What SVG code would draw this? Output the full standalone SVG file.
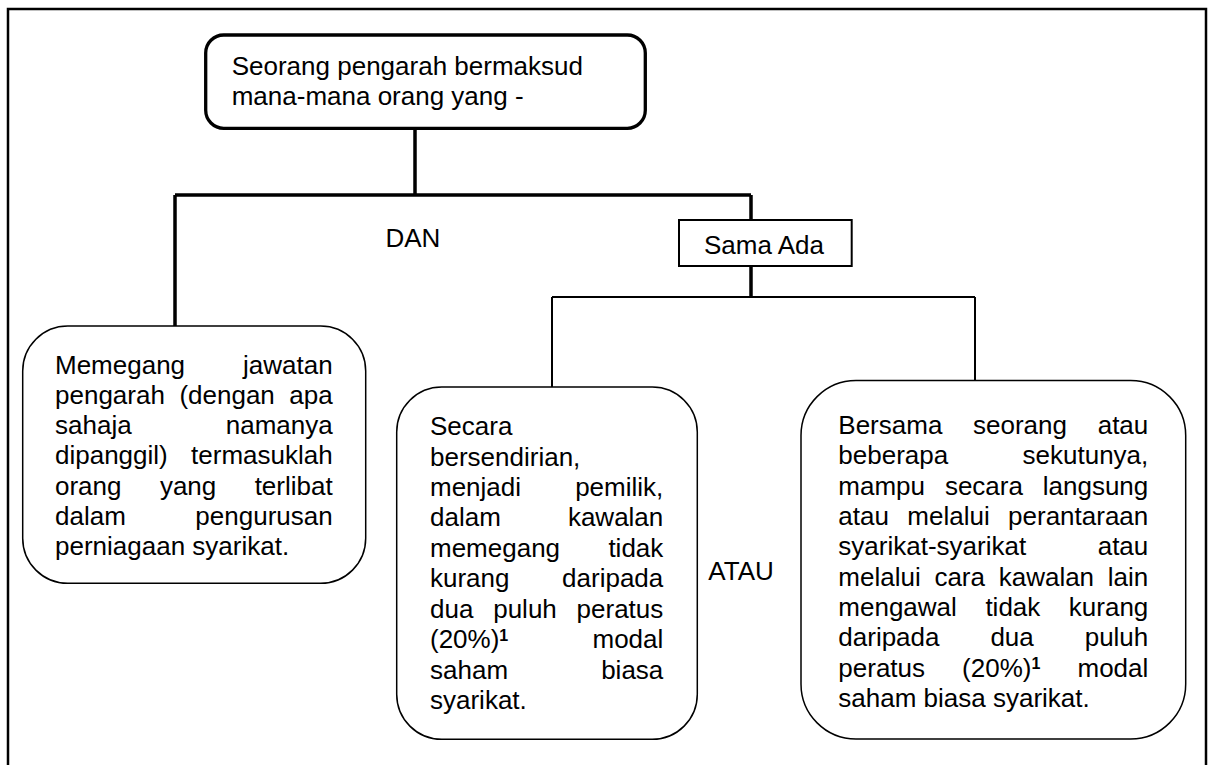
<svg xmlns="http://www.w3.org/2000/svg" width="1209" height="765" viewBox="0 0 1209 765">
<style>
text{font-family:"Liberation Sans",Arial,sans-serif;font-size:26px;fill:#000}
.sup{font-size:16px;font-weight:bold}
.thick{stroke:#000;stroke-width:3.5;fill:none}
.thin{stroke:#000;stroke-width:2;fill:none}
.box{fill:#fff;stroke:#000;stroke-width:1.5}
.e{text-anchor:end}
</style>
<rect x="0" y="0" width="1209" height="765" fill="#fff"/>
<rect id="frame" x="8" y="9" width="1198" height="770" fill="none" stroke="#000" stroke-width="2.5"/>
<g id="connectors">
<path class="thick" d="M415 128 V195 M175 195 H751 M175 195 V326 M751 195 V220 M751 266 V297"/>
<path class="thin" d="M552 297 H975 M552 297 V387 M975 297 V380"/>
</g>
<g id="top">
<rect x="205.7" y="35" width="439.6" height="93.3" rx="18" fill="#fff" stroke="#000" stroke-width="3.3"/>
<text x="231.7" y="75">Seorang pengarah bermaksud</text>
<text x="231.7" y="105">mana-mana orang yang -</text>
</g>
<g id="dan"><text x="385.5" y="247">DAN</text></g>
<g id="samaada">
<rect x="679" y="220" width="172.7" height="46" fill="#fff" stroke="#000" stroke-width="2"/>
<text x="704" y="254">Sama Ada</text>
</g>
<g id="atau"><text x="708.3" y="580">ATAU</text></g>
<g id="left">
<rect class="box" x="22.7" y="326" width="343" height="257.3" rx="45"/>
<text x="55" y="373.5">Memegang</text><text class="e" x="332.7" y="373.5">jawatan</text>
<text x="55" y="403.8">pengarah</text><text x="179.4" y="403.8">(dengan</text><text class="e" x="332.7" y="403.8">apa</text>
<text x="55" y="434.1">sahaja</text><text class="e" x="332.7" y="434.1">namanya</text>
<text x="55" y="464.4">dipanggil)</text><text class="e" x="332.7" y="464.4">termasuklah</text>
<text x="55" y="494.7">orang</text><text x="159.9" y="494.7">yang</text><text class="e" x="332.7" y="494.7">terlibat</text>
<text x="55" y="525">dalam</text><text class="e" x="332.7" y="525">pengurusan</text>
<text x="55" y="555.3">perniagaan syarikat.</text>
</g>
<g id="middle">
<rect class="box" x="396.7" y="387" width="300.6" height="352.3" rx="45"/>
<text x="430" y="435">Secara</text>
<text x="430" y="465.5">bersendirian,</text>
<text x="430" y="496">menjadi</text><text class="e" x="663.3" y="496">pemilik,</text>
<text x="430" y="526.4">dalam</text><text class="e" x="663.3" y="526.4">kawalan</text>
<text x="430" y="556.9">memegang</text><text class="e" x="663.3" y="556.9">tidak</text>
<text x="430" y="587.4">kurang</text><text class="e" x="663.3" y="587.4">daripada</text>
<text x="430" y="617.9">dua</text><text x="493.2" y="617.9">puluh</text><text class="e" x="663.3" y="617.9">peratus</text>
<text x="430" y="648.4">(20%)</text><text class="sup" x="499.3" y="641">1</text><text class="e" x="663.3" y="648.4">modal</text>
<text x="430" y="678.8">saham</text><text class="e" x="663.3" y="678.8">biasa</text>
<text x="430" y="709.3">syarikat.</text>
</g>
<g id="right">
<rect class="box" x="801" y="380.5" width="384.7" height="358.5" rx="55"/>
<text x="838.3" y="434">Bersama</text><text x="973" y="434">seorang</text><text class="e" x="1148.3" y="434">atau</text>
<text x="838.3" y="464.3">beberapa</text><text class="e" x="1148.3" y="464.3">sekutunya,</text>
<text x="838.3" y="494.7">mampu</text><text x="944.9" y="494.7">secara</text><text class="e" x="1148.3" y="494.7">langsung</text>
<text x="838.3" y="525">atau</text><text x="907.3" y="525">melalui</text><text class="e" x="1148.3" y="525">perantaraan</text>
<text x="838.3" y="555.4">syarikat-syarikat</text><text class="e" x="1148.3" y="555.4">atau</text>
<text x="838.3" y="585.7">melalui</text><text x="934.4" y="585.7">cara</text><text x="998.7" y="585.7">kawalan</text><text class="e" x="1148.3" y="585.7">lain</text>
<text x="838.3" y="616.1">mengawal</text><text x="985.4" y="616.1">tidak</text><text class="e" x="1148.3" y="616.1">kurang</text>
<text x="838.3" y="646.4">daripada</text><text x="990.4" y="646.4">dua</text><text class="e" x="1148.3" y="646.4">puluh</text>
<text x="838.3" y="676.8">peratus</text><text x="962.1" y="676.8">(20%)</text><text class="sup" x="1031.4" y="669.4">1</text><text class="e" x="1148.3" y="676.8">modal</text>
<text x="838.3" y="707.1">saham biasa syarikat.</text>
</g>
</svg>
